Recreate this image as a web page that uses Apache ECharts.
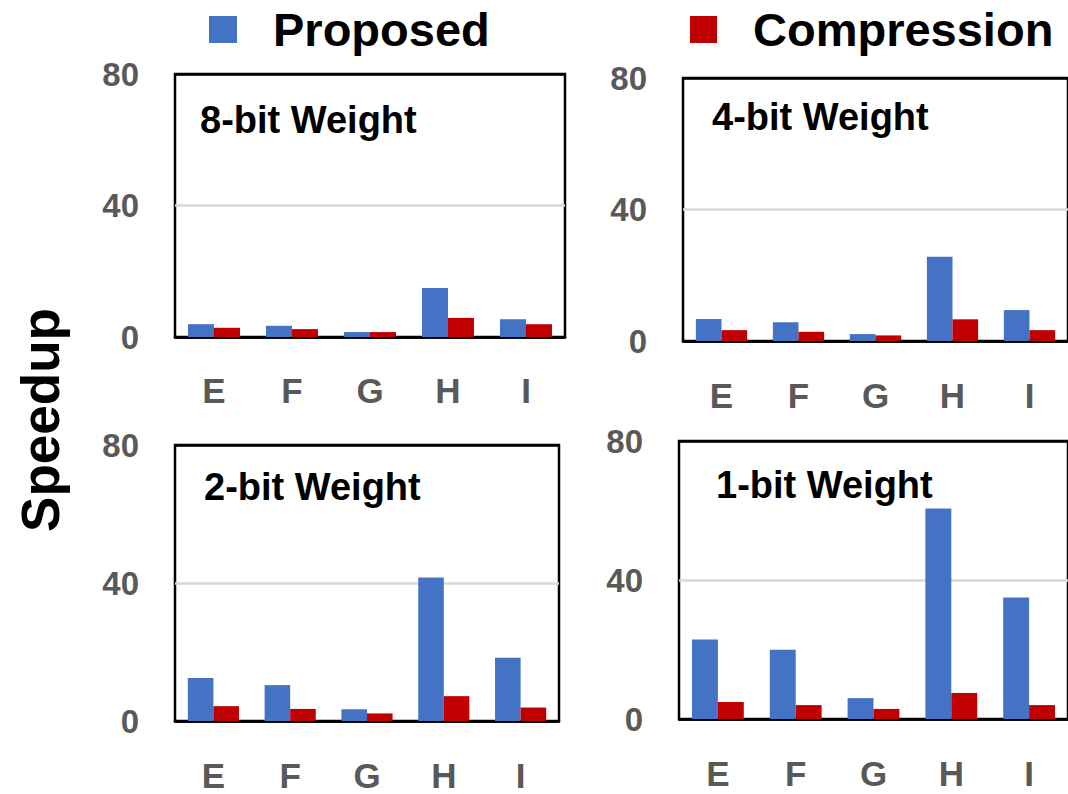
<!DOCTYPE html>
<html>
<head>
<meta charset="utf-8">
<script src="https://cdn.jsdelivr.net/npm/echarts@6/dist/echarts.min.js"></script>
<style>
html,body{margin:0;padding:0;background:#fff;}
#chart{width:1068px;height:794px;}
</style>
</head>
<body>
<div id="chart"></div>
<script>
// ---- data ----
const categories = ['E', 'F', 'G', 'H', 'I'];
const seriesNames = ['Proposed', 'Compression'];
const panelTitles = ['8-bit Weight', '4-bit Weight', '2-bit Weight', '1-bit Weight'];
const yTicks = [0, 40, 80];

const proposed8bit = [3.9, 3.4, 1.5, 14.9, 5.4];
const compression8bit = [2.8, 2.4, 1.5, 5.8, 3.9];
const proposed4bit = [6.7, 5.7, 2.1, 25.6, 9.4];
const compression4bit = [3.3, 2.8, 1.7, 6.6, 3.3];
const proposed2bit = [12.5, 10.4, 3.4, 41.6, 18.3];
const compression2bit = [4.3, 3.5, 2.2, 7.2, 3.9];
const proposed1bit = [22.9, 19.9, 6.0, 60.6, 35.0];
const compression1bit = [4.9, 4.0, 2.9, 7.5, 4.0];

const panelData = [
  [proposed8bit, compression8bit],
  [proposed4bit, compression4bit],
  [proposed2bit, compression2bit],
  [proposed1bit, compression1bit]
];

// ---- layout / style ----
const FONT = "'Liberation Sans', Arial, sans-serif";
const COLORS = ['#4472C4', '#C00000'];
const grids = [
  {left: 175, top: 74, width: 390, height: 263},
  {left: 683, top: 78, width: 391, height: 263},
  {left: 175, top: 445, width: 384, height: 276},
  {left: 679, top: 441, width: 392, height: 278}
];
const titlePos = [
  {left: 200, top: 101},
  {left: 712, top: 98},
  {left: 204, top: 468},
  {left: 716, top: 466}
];
const xLabelMargin = [40.5, 41, 41.5, 41];

const chart = echarts.init(document.getElementById('chart'), null, {renderer: 'svg'});

const legendText = {fontFamily: FONT, fontSize: 47, fontWeight: 'bold', color: '#000', lineHeight: 30, padding: [0, 0, 6, 31]};

const option = {
  backgroundColor: '#fff',
  animation: false,
  color: COLORS,
  legend: [
    {data: [seriesNames[0]], left: 209, top: 6, padding: 0, icon: 'rect', itemWidth: 28, itemHeight: 27, textStyle: legendText},
    {data: [seriesNames[1]], left: 690, top: 6, padding: 0, icon: 'rect', itemWidth: 27, itemHeight: 27, textStyle: legendText}
  ],
  title: panelTitles.map((t, i) => ({
    text: t, left: titlePos[i].left, top: titlePos[i].top, padding: 0,
    textStyle: {fontFamily: FONT, fontSize: 38, fontWeight: 'bold', color: '#000', lineHeight: 38}
  })),
  graphic: [{
    type: 'text', x: 40, y: 420, rotation: Math.PI / 2,
    style: {text: 'Speedup', fontFamily: FONT, fontSize: 53, fontWeight: 'bold', fill: '#000',
      textAlign: 'center', textVerticalAlign: 'middle'}
  }],
  grid: grids.map(g => ({
    left: g.left, top: g.top, width: g.width, height: g.height,
    show: true, borderColor: '#000', borderWidth: 2.5, backgroundColor: 'transparent'
  })),
  xAxis: grids.map((g, i) => ({
    type: 'category', gridIndex: i, data: categories,
    axisLine: {show: true, lineStyle: {color: '#000', width: 2.5}},
    axisTick: {show: false},
    axisLabel: {fontFamily: FONT, fontSize: 35, fontWeight: 'bold', color: '#595959', margin: xLabelMargin[i], lineHeight: 26}
  })),
  yAxis: grids.map((g, i) => ({
    type: 'value', gridIndex: i, min: yTicks[0], max: yTicks[yTicks.length - 1], interval: yTicks[1] - yTicks[0],
    axisLine: {show: false}, axisTick: {show: false},
    axisLabel: {fontFamily: FONT, fontSize: 33, fontWeight: 'bold', color: '#595959', margin: 36},
    splitLine: {show: true, lineStyle: {color: ['#000', '#d9d9d9', '#000'], width: 2.5}}
  })),
  series: []
};

panelData.forEach((pair, i) => {
  pair.forEach((vals, s) => {
    option.series.push({
      type: 'bar', name: seriesNames[s], xAxisIndex: i, yAxisIndex: i,
      data: vals, barWidth: '33.3%', barGap: '0%',
      itemStyle: {color: COLORS[s]}
    });
  });
});

chart.setOption(option);
</script>
</body>
</html>
